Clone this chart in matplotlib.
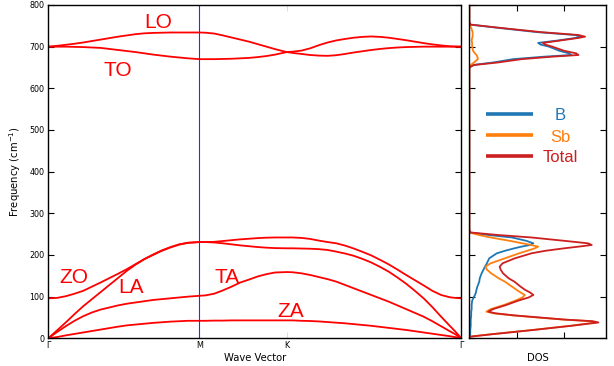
import matplotlib
matplotlib.use("Agg")
import matplotlib.pyplot as plt

# ---------------- data ----------------
# path distances (hexagonal BZ: Gamma-M-K-Gamma)
k_ticks = [0.0, 0.866, 1.366, 2.366]
k_labels = ["Γ", "M", "K", "Γ"]

kpath = [0.0, 0.05, 0.1, 0.15, 0.2, 0.25, 0.3, 0.35, 0.4, 0.45, 0.5, 0.55,
         0.6, 0.65, 0.7, 0.75, 0.8, 0.866,
         0.9, 0.95, 1.0, 1.05, 1.1, 1.15, 1.2, 1.25, 1.3, 1.366,
         1.4, 1.45, 1.5, 1.55, 1.6, 1.65, 1.7, 1.75, 1.8, 1.85, 1.9, 1.95,
         2.0, 2.05, 2.1, 2.15, 2.2, 2.25, 2.3, 2.33, 2.366]

band_ZA = [0, 3, 7, 10.5, 14, 17.5, 21, 24.5, 28, 31, 33, 35,
           37, 38.5, 40, 41, 42, 42,
           42, 42.5, 42.5, 43, 43, 43, 43, 43, 43, 43,
           43, 42, 41.5, 40.5, 39, 37.5, 36, 34, 32, 30, 27.5, 25,
           22.5, 20, 17, 14, 11, 8, 5, 3, 0]
band_TA = [0, 15, 29, 42, 53, 62, 69, 74, 79, 83, 86, 89,
           92, 94, 96, 98, 100, 102,
           103, 107, 115, 124, 134, 141, 148.5, 154, 158, 159,
           158.5, 156, 152, 147, 142, 136, 128, 120, 112, 104, 96, 88,
           79, 70, 61, 52, 41, 29, 17, 10, 0]
band_LA = [0, 19, 38, 58, 77, 94, 111, 128, 145, 162, 177, 190,
           200, 210, 218, 225, 229, 231,
           231, 230, 228, 225.5, 223, 221, 219, 217.5, 216.5, 216,
           216, 215.5, 215, 214, 212, 208, 203.5, 198, 190.5, 182, 171.5, 160,
           146, 131, 114, 96, 75, 52, 30, 17, 0]
band_ZO = [96, 97, 101, 107, 114, 124, 134, 144.5, 155, 166, 178, 190,
           201, 211, 219, 225.5, 229.5, 231,
           231, 231.5, 233.5, 235.5, 237.5, 239, 240.5, 241.5, 242, 242,
           242, 241, 238.5, 234.5, 231, 228, 222.5, 215.5, 207.5, 199, 188.5,
           177.5, 165, 152, 139.5, 127, 114, 104, 98.5, 97, 96]
band_TO = [700, 700, 700, 699.5, 699, 698, 697, 694.5, 692, 689.5, 687, 684,
           681, 678.5, 676, 674, 672, 670,
           670, 670, 670.5, 671, 672, 673, 675, 677.5, 681, 687,
           688, 690.5, 696, 703.5, 710, 715, 718.5, 721.5, 723.5, 724.5,
           723.5, 721.5, 718.5, 715.5, 712, 708.5, 705.5, 703, 701, 700.3, 700]
band_LO = [700, 702, 704.5, 707, 710, 713.5, 717, 720.5, 724, 727, 730, 732,
           733, 733.5, 734, 734, 734, 734,
           733.5, 731.5, 727, 722, 717, 712, 706, 700, 694, 687,
           685, 682.5, 680, 678.5, 678, 679.5, 682.5, 686, 689, 692, 694.5,
           696.5, 698, 699, 699.5, 700, 700, 700, 700, 700, 700]
bands = [band_ZA, band_TA, band_LA, band_ZO, band_TO, band_LO]

mode_names = ["LO", "TO", "ZO", "LA", "TA", "ZA"]
mode_pos_k = [0.627, 0.396, 0.148, 0.474, 1.026, 1.389]
mode_pos_f = [744, 630, 132, 108, 132, 52]

# density of states
dos_freq = [0, 4, 10, 20, 30, 35, 38, 41, 45, 55, 60, 64, 70, 80, 90, 98, 104,
            110, 116, 124, 136, 144, 156, 165, 172, 180, 192, 204, 210, 216,
            220, 224, 228, 234, 242, 248, 254, 260, 300, 400, 500, 600, 650,
            656, 662, 670, 676, 680, 684, 690, 700, 705, 709, 715, 721, 724,
            728, 735, 745, 753, 760, 800]
dos_total = [0, 0.02, 0.5, 1.35, 2.15, 2.5, 2.72, 2.6, 2.0, 0.95, 0.55, 0.4,
             0.5, 0.78, 1.02, 1.25, 1.35, 1.28, 1.18, 1.08, 0.95, 0.83, 0.71,
             0.66, 0.64, 0.7, 0.96, 1.31, 1.6, 2.0, 2.3, 2.58, 2.5, 2.0, 1.31,
             0.6, 0.02, 0, 0, 0, 0, 0, 0, 0.1, 0.6, 1.1, 1.75, 2.3, 2.25, 2.0,
             1.75, 1.6, 1.55, 1.93, 2.3, 2.44, 2.3, 1.5, 0.66, 0.02, 0, 0]
dos_B = [0, 0.01, 0.02, 0.02, 0.03, 0.03, 0.03, 0.03, 0.03, 0.04, 0.04, 0.04,
         0.05, 0.05, 0.06, 0.09, 0.12, 0.14, 0.15, 0.17, 0.21, 0.22, 0.26,
         0.3, 0.33, 0.37, 0.42, 0.58, 0.75, 0.95, 1.1, 1.28, 1.35, 1.2, 0.9,
         0.4, 0.02, 0, 0, 0, 0, 0, 0, 0.08, 0.5, 0.92, 1.58, 2.15, 2.1, 1.9,
         1.68, 1.5, 1.45, 1.88, 2.24, 2.37, 2.22, 1.42, 0.62, 0.02, 0, 0]
dos_Sb = [0, 0.01, 0.48, 1.33, 2.12, 2.47, 2.69, 2.57, 1.97, 0.91, 0.51, 0.36,
          0.45, 0.73, 0.96, 1.12, 1.17, 1.08, 1.0, 0.9, 0.75, 0.62, 0.46,
          0.37, 0.34, 0.45, 0.75, 1.05, 1.22, 1.38, 1.45, 1.3, 1.12, 0.85,
          0.45, 0.2, 0, 0, 0, 0, 0, 0, 0, 0.03, 0.1, 0.18, 0.17, 0.15, 0.12,
          0.08, 0.06, 0.06, 0.06, 0.05, 0.06, 0.07, 0.07, 0.07, 0.04, 0, 0, 0]
dos_names = ["B", "Sb", "Total"]
dos_colors = ["#1f77b4", "#ff7f0e", "#cc1f1f"]

# ---------------- figure ----------------
fig = plt.figure(figsize=(6.14, 3.66), dpi=100)
ax = fig.add_axes([48.3 / 614, (366 - 338.3) / 366, 413 / 614, 333.3 / 366])
axd = fig.add_axes([469.3 / 614, (366 - 338.3) / 366, 136.7 / 614, 333.3 / 366])

for b in bands:
    ax.plot(kpath, b, color="#ff0000", lw=1.3, solid_joinstyle="round")
ax.axvline(k_ticks[1], color="#2b2bff", lw=0.8)
ax.set_xlim(k_ticks[0], k_ticks[-1])
ax.set_ylim(0, 800)
ax.set_xticks(k_ticks)
ax.set_xticklabels(k_labels)
ax.set_yticks(range(0, 801, 100))
ax.tick_params(axis="y", direction="in", left=True, right=True, length=4,
               width=0.8, labelsize=5.8, pad=3)
ax.tick_params(axis="x", direction="in", top=True, bottom=True, length=4,
               width=0.8, color="#dddddd", labelsize=5.8, pad=2)
ax.set_xlabel("Wave Vector", fontsize=7.2)
ax.xaxis.set_label_coords(0.5, -0.043)
ax.set_ylabel("Frequency (cm$^{-1}$)", fontsize=7.2, labelpad=4)
for nm, kx, fy in zip(mode_names, mode_pos_k, mode_pos_f):
    ax.text(kx, fy, nm, color="#ff0000", fontsize=15, ha="center",
            va="baseline", family="Liberation Sans")

for vals, c in zip([dos_B, dos_Sb, dos_total], dos_colors):
    axd.plot(vals, dos_freq, color=c, lw=1.3, solid_joinstyle="round")
axd.set_xlim(0, 2.88)
axd.set_ylim(0, 800)
axd.set_xticks([1, 2])
axd.set_xticklabels([])
axd.set_yticks(range(0, 801, 100))
axd.set_yticklabels([])
axd.tick_params(axis="both", direction="in", left=True, right=True, top=True,
                bottom=True, length=4, width=0.8)
axd.set_xlabel("DOS", fontsize=7.2)
axd.xaxis.set_label_coords(0.5, -0.043)

# legend (manual, centered labels)
leg_y_line = [0.672, 0.610, 0.547]
leg_y_text = [0.655, 0.590, 0.530]
for nm, c, yl, yt in zip(dos_names, dos_colors, leg_y_line, leg_y_text):
    axd.plot([0.122, 0.466], [yl, yl], transform=axd.transAxes, color=c,
             lw=2.6, solid_capstyle="butt")
    axd.text(0.663, yt, nm, transform=axd.transAxes, color=c, fontsize=12,
             ha="center", va="baseline", family="Liberation Sans")

for a in (ax, axd):
    for s in a.spines.values():
        s.set_linewidth(1.0)

fig.savefig("out.png", dpi=100)
